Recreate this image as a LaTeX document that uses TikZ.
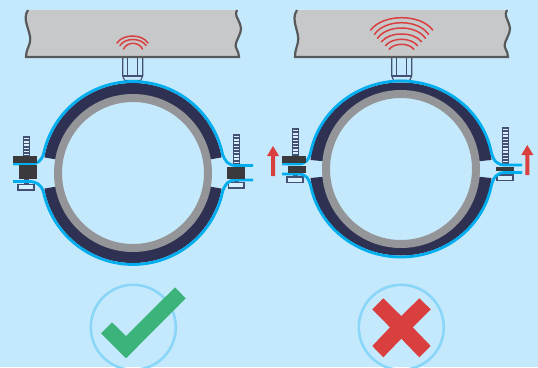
\documentclass[tikz,border=0pt]{standalone}
\definecolor{skybg}{RGB}{197, 233, 252}
\definecolor{slabgray}{RGB}{199, 200, 202}
\definecolor{slabedge}{RGB}{88, 89, 91}
\definecolor{bandcyan}{RGB}{0, 174, 239}
\definecolor{banddark}{RGB}{46, 49, 82}
\definecolor{ringgray}{RGB}{147, 149, 152}
\definecolor{nutdark}{RGB}{58, 58, 60}
\definecolor{boltblue}{RGB}{67, 80, 115}
\definecolor{wavered}{RGB}{217, 63, 63}
\definecolor{okgreen}{RGB}{60, 179, 122}
\definecolor{badgering}{RGB}{138, 214, 248}
\tikzset{
	slabfill/.style={fill=slabgray},
	slabline/.style={draw=slabedge, line width=2.2pt},
	wave/.style={draw=wavered, line width=1.5pt, line cap=round},
	cyanband/.style={draw=bandcyan, line width=2.8pt},
	hanger/.style={draw=boltblue, line width=1.1pt},
	boltcap/.style={draw=boltblue, fill=skybg!70!white, line width=1.2pt},
	badge/.style={draw=badgering, line width=2.6pt},
	liftarrow/.style={fill=wavered}
}
\newcommand{\threadrod}[4]{
	\fill[boltblue] (#1,#2) rectangle ({#1+7},#3);
	\foreach \n in {1,...,#4}
		\draw[skybg!70!white, line width=1.4pt] ({#1+1.2},{#2+3.2*\n-0.6}) -- ({#1+5.8},{#2+3.2*\n-0.6});
}
\newcommand{\hangerpiece}[1]{
	\draw[hanger] ({#1-10},58) -- ({#1-10},76) -- ({#1-8},80.5) -- ({#1+8},80.5) -- ({#1+10},76) -- ({#1+10},58);
	\draw[hanger] ({#1-5},58) -- ({#1-5},76) -- ({#1+5},76) -- ({#1+5},58);
	\draw[hanger] ({#1-10},76) -- ({#1+10},76);
}
\newcommand{\wavearc}[4]{
	\draw[wave] ({#1-#2},#3) .. controls ({#1-0.6*#2},{#3+(#4-#3)*4/3}) and ({#1+0.6*#2},{#3+(#4-#3)*4/3}) .. ({#1+#2},#3);
}
\begin{document}
\begin{tikzpicture}[x=1pt, y=-1pt]
	\useasboundingbox (0,0) rectangle (538,367);
	\fill[skybg] (0,0) rectangle (538,367);

	% left slab
	\fill[slabfill] (28,10) .. controls (21,20) and (32,32) .. (30,42) .. controls (29,47) and (26,50) .. (26,57) -- (239,57) .. controls (239,50) and (234,48) .. (236,43) .. controls (239,35) and (243,30) .. (240,24) .. controls (238,18) and (234,15) .. (237,10) -- cycle;
	\draw[slabline] (28,10) .. controls (21,20) and (32,32) .. (30,42) .. controls (29,47) and (26,50) .. (26,57) -- (239,57) .. controls (239,50) and (234,48) .. (236,43) .. controls (239,35) and (243,30) .. (240,24) .. controls (238,18) and (234,15) .. (237,10);
	\wavearc{132.5}{15.5}{43}{36}
	\wavearc{133}{13}{45.5}{39.5}
	\wavearc{133}{9.5}{49}{43.3}

	% right slab
	\fill[slabfill] (297,10) .. controls (290,20) and (300,32) .. (298,42) .. controls (297,47) and (295,50) .. (295,57) -- (508,57) .. controls (508,50) and (503,48) .. (505,43) .. controls (508,35) and (512,30) .. (509,24) .. controls (507,18) and (504,15) .. (507,10) -- cycle;
	\draw[slabline] (297,10) .. controls (290,20) and (300,32) .. (298,42) .. controls (297,47) and (295,50) .. (295,57) -- (508,57) .. controls (508,50) and (503,48) .. (505,43) .. controls (508,35) and (512,30) .. (509,24) .. controls (507,18) and (504,15) .. (507,10);
	\wavearc{401.7}{31}{30}{17.7}
	\wavearc{401.5}{27}{34.3}{22.7}
	\wavearc{401.5}{24}{38.3}{28}
	\wavearc{401.5}{20}{41.7}{34}
	\wavearc{401.5}{16}{45.7}{39.3}
	\wavearc{401.5}{12.3}{49.3}{44.3}

	\hangerpiece{132.7}
	\hangerpiece{401.7}

	% left clamp
	\threadrod{23}{136}{156}{6}
	\threadrod{233}{134}{165}{9}
	\fill[boltblue] (23.5,178) rectangle (28.5,185);
	\fill[boltblue] (233.5,178) rectangle (238.5,183);
	\draw[boltcap] (18,184.5) rectangle (34,190);
	\draw[boltcap] (228.5,182.5) rectangle (244,188);
	\fill[banddark] (133,173) -- ++(-170:90) arc[start angle=-170, end angle=-10, radius=90] -- cycle;
	\fill[banddark] (133,173) -- ++(170:90) arc[start angle=170, end angle=10, radius=90] -- cycle;
	\draw[ringgray, line width=8pt, fill=skybg] (133,173) circle[radius=75];
	\draw[cyanband] (13,164) -- (30,164) .. controls (38,164) and (41,161) .. (43.5,154) arc[start angle=-168, end angle=-12, radius=91.5] .. controls (225,161) and (228,165.5) .. (236,165.5) -- (253,165.5);
	\draw[cyanband] (13,181.5) -- (28,181.5) .. controls (36,181.5) and (41,184) .. (43.5,192) arc[start angle=168, end angle=12, radius=91.5] .. controls (225,184) and (228,180) .. (236,180) -- (253,180);
	\fill[nutdark] (13,156) rectangle (37,163);
	\fill[nutdark] (19,165) rectangle (37,179);
	\fill[nutdark] (227,167) rectangle (245,179);

	% right clamp
	\threadrod{292}{128}{156}{8}
	\threadrod{502}{127}{165}{11}
	\fill[boltblue] (292.5,171) rectangle (297.5,178);
	\fill[boltblue] (503,170) rectangle (508,176);
	\draw[boltcap] (287,177) rectangle (303,182.5);
	\draw[boltcap] (497,175) rectangle (513,180.5);
	\fill[banddark] (401,169) -- ++(-174:91 and 86.5) arc[start angle=-174, end angle=-6, x radius=91, y radius=86.5] -- cycle;
	\fill[banddark] (401,169) -- ++(174:91 and 86.5) arc[start angle=174, end angle=6, x radius=91, y radius=86.5] -- cycle;
	\draw[ringgray, line width=8pt, fill=skybg] (401,169) circle[radius=75];
	\draw[cyanband] (282,164) -- (298,164) .. controls (306,164) and (309,160) .. (311.18,149.95) arc[start angle=-167.5, end angle=-12.5, x radius=92, y radius=88] .. controls (493,161) and (497,165) .. (505,165) -- (522,165);
	\draw[cyanband] (282,174) -- (298,174) .. controls (306,174) and (309,178) .. (311.18,188.05) arc[start angle=167.5, end angle=12.5, x radius=92, y radius=88] .. controls (493,177) and (497,172.5) .. (505,172.5) -- (522,172.5);
	\fill[nutdark] (282,156) rectangle (306,163);
	\fill[nutdark] (288,165.5) rectangle (306,172.5);
	\fill[nutdark] (496,167) rectangle (514,171);

	% lift arrows
	\fill[liftarrow] (271,176) -- (275,176) -- (275,156) -- (279,156) -- (273,146) -- (267,156) -- (271,156) -- cycle;
	\fill[liftarrow] (525.3,175) -- (529.3,175) -- (529.3,155) -- (533.3,155) -- (527.3,145) -- (521.3,155) -- (525.3,155) -- cycle;

	% check and cross badges
	\draw[badge] (133.3,327.3) circle[radius=42.5];
	\fill[okgreen] (175,287.3) -- (185.7,298.3) -- (126,358.3) -- (101,333.3) -- (112,322.3) -- (126,336) -- cycle;
	\draw[badge] (401.3,327.3) circle[radius=42.5];
	\fill[wavered] (401.3,316) -- (419.3,298.3) -- (430.7,309.3) -- (412.7,327.3) -- (430.7,346) -- (419.3,357.3) -- (401.3,338.7) -- (383.3,357.3) -- (372.3,346) -- (390,327.3) -- (372.3,309.3) -- (383.3,298.3) -- cycle;
\end{tikzpicture}
\end{document}
